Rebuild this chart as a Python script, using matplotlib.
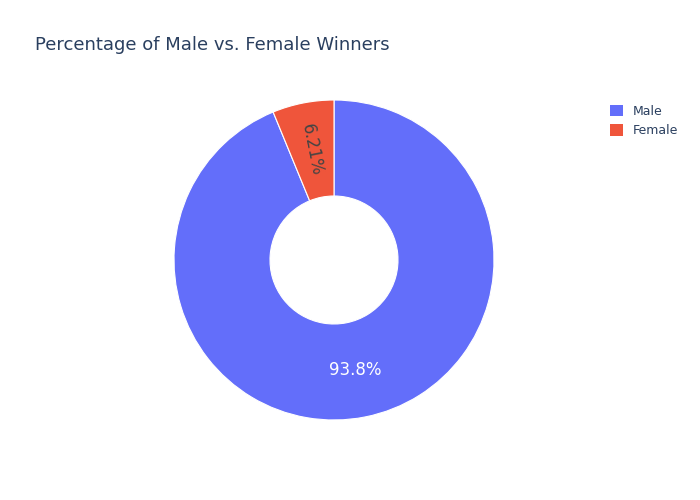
import numpy as np
import matplotlib.pyplot as plt
from matplotlib.patches import Patch

labels = ["Male", "Female"]
shares = [93.79, 6.21]
label_text = ["93.8%", "6.21%"]
colors = ["#636efa", "#ef553b"]

fig = plt.figure(figsize=(7, 5), dpi=100)
ax = fig.add_axes([334 / 700 - 160 / 700, 0.48 - 160 / 500, 320 / 700, 320 / 500])
wedges, _ = ax.pie(shares, colors=colors, startangle=90, counterclock=False,
                   wedgeprops=dict(width=0.6, edgecolor="white", linewidth=0.8))
ax.set_aspect("equal")
ax.set_xlim(-1, 1)
ax.set_ylim(-1, 1)

# inside labels
start = 90
for w, txt, s in zip(wedges, label_text, shares):
    mid = np.deg2rad((w.theta1 + w.theta2) / 2)
    r = 0.7
    x, y = r * np.cos(mid), r * np.sin(mid)
    if s < 20:
        rot = np.rad2deg(mid) - 180
        ax.text(x, y, txt, rotation=rot, ha="center", va="center",
                fontsize=12, color="#444444", rotation_mode="anchor")
    else:
        ax.text(x, y, txt, ha="center", va="center", fontsize=12, color="white")

fig.text(35 / 700, 1 - 45 / 500, "Percentage of Male vs. Female Winners",
         fontsize=13, color="#2a3f5f", va="center")
handles = [Patch(facecolor=c, label=l) for c, l in zip(colors, labels)]
fig.legend(handles=handles, loc="upper left", bbox_to_anchor=(605 / 700, 1 - 100 / 500),
           frameon=False, fontsize=9, handlelength=1, handleheight=1,
           labelcolor="#2a3f5f", borderaxespad=0)
fig.savefig("out.png", dpi=100)
